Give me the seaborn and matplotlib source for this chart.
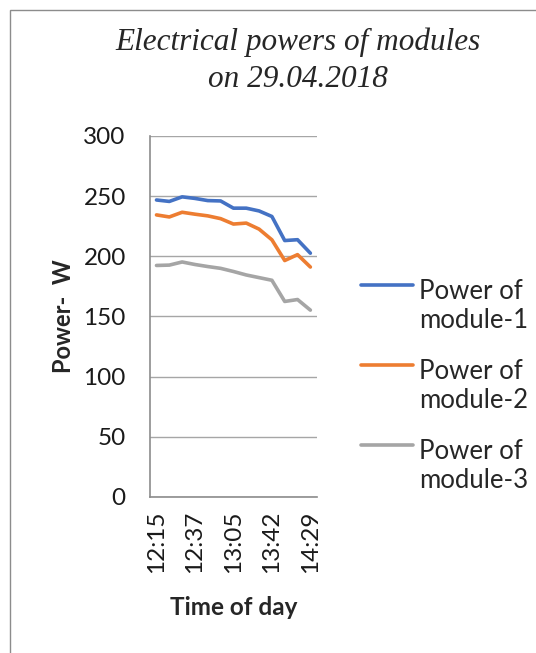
import numpy as np
import pandas as pd
import matplotlib
matplotlib.use("Agg")
import matplotlib.pyplot as plt
from matplotlib.patches import Rectangle
from matplotlib.legend_handler import HandlerLine2D
import seaborn as sns

# category labels (only every third time is printed on the axis)
time_labels = ["12:15", "", "", "12:37", "", "", "13:05", "", "", "13:42", "", "", "14:29"]

# power readings in W
module_1 = [246.7, 245.5, 249.3, 248.0, 246.2, 245.9, 239.9, 239.9, 237.6, 233.0, 213.0, 213.7, 202.5]
module_2 = [234.3, 232.6, 236.5, 234.9, 233.5, 231.2, 226.7, 227.5, 222.5, 213.6, 196.4, 201.3, 191.0]
module_3 = [192.3, 192.6, 195.2, 193.1, 191.4, 189.9, 187.3, 184.4, 182.2, 180.0, 162.4, 164.0, 155.2]

series_names = ["Power of\nmodule-1", "Power of\nmodule-2", "Power of\nmodule-3"]
colors = ["#4472C4", "#ED7D31", "#A5A5A5"]

rows = []
for name, vals in zip(series_names, [module_1, module_2, module_3]):
    for i, v in enumerate(vals):
        rows.append({"idx": i, "power": v, "series": name})
df = pd.DataFrame(rows)


class TopLineHandler(HandlerLine2D):
    """Put the legend line next to the first text line, like Excel does."""
    def create_artists(self, legend, orig_handle, xdescent, ydescent, width, height,
                       fontsize, trans):
        artists = super().create_artists(legend, orig_handle, xdescent, ydescent,
                                         width, height, fontsize, trans)
        for a in artists:
            a.set_ydata(np.asarray(a.get_ydata()) + 0.85 * fontsize)
        return artists


sns.set_theme(style="white")
plt.rcParams['font.family'] = ['Lato', 'DejaVu Sans']

fig = plt.figure(figsize=(5.36, 6.53), dpi=100)
ax = fig.add_axes([0.280, 0.239, 0.311, 0.553])

sns.lineplot(data=df, x="idx", y="power", hue="series", palette=colors,
             linewidth=2.6, ax=ax, legend=True)

ax.set_xlim(-0.5, len(time_labels) - 0.5)
ax.set_ylim(0, 300)
ax.set_yticks(range(0, 301, 50))
ax.yaxis.grid(True, color="#a6a6a6", linewidth=1.0)
ax.set_axisbelow(True)

for s in ["top", "right"]:
    ax.spines[s].set_visible(False)
for s in ["left", "bottom"]:
    ax.spines[s].set_color("#8c8c8c")
    ax.spines[s].set_linewidth(1.2)

shown = [i for i, t in enumerate(time_labels) if t]
ax.set_xticks(shown)
ax.set_xticklabels([time_labels[i] for i in shown], rotation=90)
ax.set_xticks(np.arange(-0.5, len(time_labels), 1), minor=True)
ax.tick_params(axis="x", which="major", length=0, pad=10, labelsize=17.5, colors="#1a1a1a")
ax.tick_params(axis="x", which="minor", length=6, width=1.0, color="#8c8c8c", direction="out")
ax.tick_params(axis="y", length=6, width=1.0, color="#8c8c8c", direction="out",
               labelsize=17.5, labelcolor="#1a1a1a", pad=11.5)

ax.set_xlabel("Time of day", fontsize=17.5, fontweight="bold", labelpad=16)
ax.set_ylabel("Power-  W", fontsize=17, fontweight="bold", labelpad=6)

fig.text(0.556, 0.924, "Electrical powers of modules", ha="center", va="baseline",
         fontsize=22.5, style="italic", family="Liberation Serif")
fig.text(0.556, 0.867, "on 29.04.2018", ha="center", va="baseline",
         fontsize=22.5, style="italic", family="Liberation Serif")

leg = ax.legend(loc="upper left", bbox_to_anchor=(0.655, 0.588), bbox_transform=fig.transFigure,
                frameon=False, fontsize=18.5, handlelength=2.0, handletextpad=0.25,
                labelspacing=1.0, borderaxespad=0,
                handler_map={plt.Line2D: TopLineHandler()})
for line in leg.get_lines():
    line.set_linewidth(2.6)

fig.add_artist(Rectangle((10 / 536, -0.1), 1.2, 1.1 - 10 / 653, transform=fig.transFigure,
                         fill=False, edgecolor="#8c8c8c", linewidth=1.0))

fig.savefig("out.png", dpi=100)
